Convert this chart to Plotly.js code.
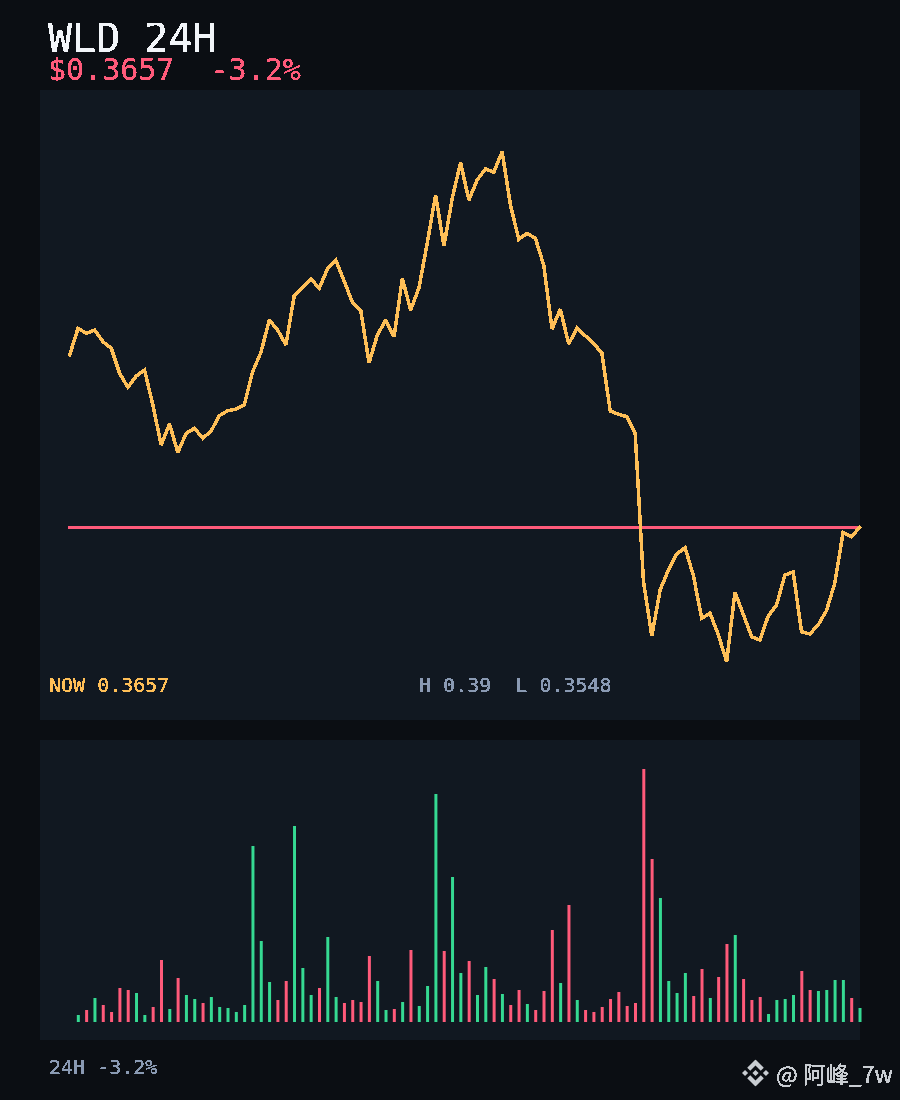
<!DOCTYPE html>
<html>
<head>
<meta charset="utf-8">
<script src="https://cdn.plot.ly/plotly-3.0.1.min.js"></script>
<style>
html,body{margin:0;padding:0;background:#0b0e13;}
#chart{width:900px;height:1100px;}
.scatterlayer path{shape-rendering:crispEdges;stroke-linecap:square !important;stroke-linejoin:miter !important;stroke-miterlimit:2 !important;}
g.annotation-text-g text{filter:url(#aliased);}
</style>
</head>
<body>
<svg width="0" height="0" style="position:absolute"><filter id="aliased" x="-5%" y="-10%" width="110%" height="120%" color-interpolation-filters="sRGB"><feComponentTransfer><feFuncA type="discrete" tableValues="0 1 1 1"/></feComponentTransfer></filter></svg>
<div id="chart"></div>
<script>
const closePrices = [
0.37967,0.38184,0.38143,0.3817,0.38075,0.38022,0.37819,0.37705,0.37797,0.37846,
0.37562,0.37237,0.37408,0.37178,0.37332,0.37373,0.37292,0.37351,0.37475,0.37516,
0.37529,0.37562,0.37832,0.37989,0.38251,0.3817,0.38049,0.38448,0.38516,0.38586,
0.38508,0.38665,0.38738,0.38562,0.38395,0.38327,0.37905,0.3813,0.38251,0.38116,
0.38589,0.38332,0.38513,0.38876,0.39265,0.38851,0.39238,0.39527,0.39224,0.39387,
0.39476,0.39449,0.39616,0.39184,0.38906,0.38954,0.38914,0.38697,0.38178,0.3834,
0.38057,0.38184,0.38124,0.38062,0.37981,0.37513,0.37486,0.37467,0.37332,0.36129,
0.35688,0.36062,0.36224,0.36354,0.36405,0.36178,0.35832,0.35873,0.35697,0.3548,
0.36043,0.35859,0.35683,0.35656,0.35851,0.3594,0.36183,0.36208,0.35723,0.35705,
0.35778,0.35894,0.36116,0.36529,0.36494,0.3657];
const volumes = [
7,12,24,17,10,34,32,29,7,15,
62,13,44,27,23,19,25,15,14,10,
17,176,81,40,22,41,196,54,27,34,
85,25,19,22,20,66,41,12,13,20,
72,16,36,228,71,145,49,61,27,55,
43,28,17,32,18,12,31,92,39,117,
22,12,10,15,23,30,16,19,253,163,
124,41,29,49,26,53,24,45,78,87,
43,22,25,8,22,23,27,51,32,31,
32,42,42,24,14];
const nowPrice = 0.3657;
const titleText = "WLD 24H";
const priceText = "$0.3657  -3.2%";
const nowText = "NOW 0.3657";
const rangeText = "H 0.39  L 0.3548";
const footText = "24H -3.2%";
const markText = "@ 阿峰_7w";

const W = 900, H = 1100;
const BG = "#0b0e13", PANEL = "#111821", YEL = "#ffbf57", RED = "#ff5a7a", GRN = "#35d992", GREY = "#8a9ab3", WHITE = "#f2f5f9";
const MONO = '"DejaVu Sans Mono", monospace';
const idx = closePrices.map((_, i) => i);
const volX = volumes.map((_, i) => i + 1);
const volColors = volumes.map((_, i) => closePrices[i + 1] >= closePrices[i] ? GRN : RED);

const logo = "data:image/svg+xml;utf8," + encodeURIComponent(
 '<svg xmlns="http://www.w3.org/2000/svg" viewBox="0 0 126.61 126.61"><path fill="#c9cdd2" d="M38.73 53.2l24.59-24.58 24.6 24.6 14.3-14.31L63.32 0 24.43 38.88zM0 63.31l14.3-14.31 14.31 14.31-14.31 14.3zM38.73 73.41l24.59 24.59 24.6-24.6 14.31 14.29L63.32 126.61 24.43 87.72zM98 63.31l14.3-14.31 14.31 14.3L112.3 77.61zM77.83 63.3L63.32 48.78 52.59 59.51l-1.24 1.23-2.54 2.54 14.51 14.5 14.51-14.51z"/></svg>');

function label(text, x, y, size, color, family, extra) {
  return Object.assign({text, x: x / W, y: 1 - y / H, xref: "paper", yref: "paper", xanchor: "left", yanchor: "middle",
          showarrow: false, font: {family: family || MONO, size, color}, borderpad: 0}, extra || {});
}
function panel(x0, y0, x1, y1) {
  return {type: "rect", layer: "below", xref: "paper", yref: "paper", x0: x0 / W, x1: x1 / W, y0: 1 - y0 / H, y1: 1 - y1 / H,
          fillcolor: PANEL, line: {width: 0}};
}
const pxPerIdx = 8.316, x0px = 69.7;
const pxPerPrice = 1 / 8.11e-5, y527 = 527.3;

const traces = [
  {type: "bar", x: volX, y: volumes, yaxis: "y2", width: 3 / pxPerIdx, offset: -1.2 / pxPerIdx, marker: {color: volColors, line: {width: 0}}},
  {type: "scatter", mode: "lines", x: [0, idx.length - 1], y: [nowPrice, nowPrice], line: {color: RED, width: 3}},
  {type: "scatter", mode: "lines", x: idx, y: closePrices, line: {color: YEL, width: 3.5}}
];
const layout = {
  width: W, height: H, margin: {l: 0, r: 0, t: 0, b: 0, pad: 0},
  paper_bgcolor: BG, plot_bgcolor: "rgba(0,0,0,0)", showlegend: false, hovermode: false,
  xaxis: {visible: false, range: [-x0px / pxPerIdx, (W - x0px) / pxPerIdx], fixedrange: true},
  yaxis: {visible: false, range: [nowPrice - (H - y527) / pxPerPrice, nowPrice + y527 / pxPerPrice], fixedrange: true},
  yaxis2: {visible: false, overlaying: "y", range: [1022 - H, 1022], fixedrange: true},
  shapes: [panel(40, 90, 860, 720), panel(40, 740, 860, 1040)],
  images: [{source: logo, xref: "paper", yref: "paper", x: 742 / W, y: 1 - 1059.5 / H, sizex: 27 / W, sizey: 27 / H,
            xanchor: "left", yanchor: "top", sizing: "contain", layer: "above"}],
  annotations: [
    label(titleText, 47, 38, 40, WHITE, null, {height: 30}),
    label(priceText, 47, 69, 30, RED, null, {height: 24}),
    label(nowText, 48, 685, 20, YEL),
    label(rangeText, 418, 685, 20, GREY),
    label(footText, 48, 1067, 20, GREY),
    label(markText, 775, 1073, 23, "#c9cdd2", '"Noto Sans CJK SC", "Noto Sans", sans-serif')
  ]
};
Plotly.newPlot("chart", traces, layout, {staticPlot: true, displayModeBar: false, responsive: false});
</script>
</body>
</html>
